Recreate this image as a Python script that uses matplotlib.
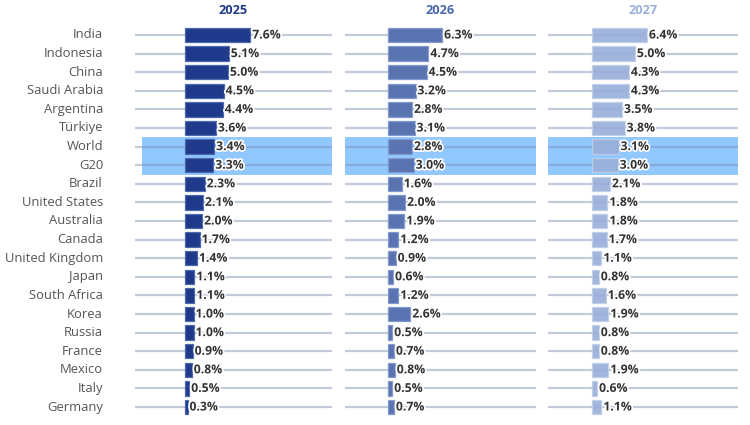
import matplotlib
matplotlib.use("Agg")
import matplotlib.pyplot as plt
import matplotlib.patheffects as pe

countries = ["India", "Indonesia", "China", "Saudi Arabia", "Argentina", "Türkiye",
             "World", "G20", "Brazil", "United States", "Australia", "Canada",
             "United Kingdom", "Japan", "South Africa", "Korea", "Russia", "France",
             "Mexico", "Italy", "Germany"]
years = ["2025", "2026", "2027"]
g2025 = [7.6, 5.1, 5.0, 4.5, 4.4, 3.6, 3.4, 3.3, 2.3, 2.1, 2.0, 1.7, 1.4, 1.1, 1.1, 1.0, 1.0, 0.9, 0.8, 0.5, 0.3]
g2026 = [6.3, 4.7, 4.5, 3.2, 2.8, 3.1, 2.8, 3.0, 1.6, 2.0, 1.9, 1.2, 0.9, 0.6, 1.2, 2.6, 0.5, 0.7, 0.8, 0.5, 0.7]
g2027 = [6.4, 5.0, 4.3, 4.3, 3.5, 3.8, 3.1, 3.0, 2.1, 1.8, 1.8, 1.7, 1.1, 0.8, 1.6, 1.9, 0.8, 0.8, 1.9, 0.6, 1.1]
highlight = ["World", "G20"]

series = [g2025, g2026, g2027]
bar_colors = ["#1f3a8a", "#5a74b2", "#9ab0db"]
edge_colors = ["#4d68ad", "#8299cb", "#c0cfea"]
title_colors = ["#1f3a8a", "#4a66ad", "#9ab0db"]

W, H = 750, 425
fig = plt.figure(figsize=(7.5, 4.25), dpi=100)
plt.rcParams['font.family'] = ['Open Sans', 'DejaVu Sans']

n = len(countries)
row_h = (407 - 35) / (n - 1)
row_top = 35 - row_h / 2
bottom_px = row_top + n * row_h

# panel pixel layout: (left, right, zero, band_left)
panels = [(135, 332, 185, 142), (345, 536, 388, 345), (548, 738, 592, 548)]
pxper = 8.6

for k, (l, r, z, bl) in enumerate(panels):
    ax = fig.add_axes([l / W, 1 - bottom_px / H, (r - l) / W, (bottom_px - row_top) / H])
    xmin = (l - z) / pxper
    xmax = (r - z) / pxper
    ax.set_xlim(xmin, xmax)
    ax.set_ylim(n - 0.5, -0.5)
    for s in ax.spines.values():
        s.set_visible(False)
    ax.set_xticks([])
    ax.set_yticks([])
    ax.patch.set_alpha(0)

    # highlight band
    idx = [countries.index(h) for h in highlight]
    bx0 = (bl - z) / pxper
    ax.fill_between([bx0, xmax], min(idx) - 0.5, max(idx) + 0.5, color="#90c8ff",
                    zorder=0, linewidth=0)
    # gridlines
    for i in range(n):
        ax.plot([xmin, xmax], [i, i], color=(120/255, 140/255, 175/255), alpha=0.45,
                lw=1.6, zorder=1, solid_capstyle="butt")
    vals = series[k]
    ax.barh(range(n), vals, height=0.78, color=bar_colors[k], edgecolor=edge_colors[k],
            linewidth=0.9, zorder=2, alpha=0.93 if k == 2 else 1)
    for i, v in enumerate(vals):
        ax.text(v + 0.22, i, f"{v:.1f}%", va="center", ha="left", fontsize=8.8,
                fontweight="bold", color="#333333", zorder=4,
                path_effects=[pe.withStroke(linewidth=2.5, foreground="white")])
    fig.text(((l + r) / 2) / W, 1 - 10 / H, years[k], ha="center", va="center",
             fontsize=9.2, fontweight="bold", color=title_colors[k])

    if k == 0:
        for i, c in enumerate(countries):
            fig.text(103 / W, 1 - (35 + i * row_h) / H, c, ha="right", va="center",
                     fontsize=9.4, color="#555555")

fig.savefig("out.png", dpi=100, facecolor="white")
